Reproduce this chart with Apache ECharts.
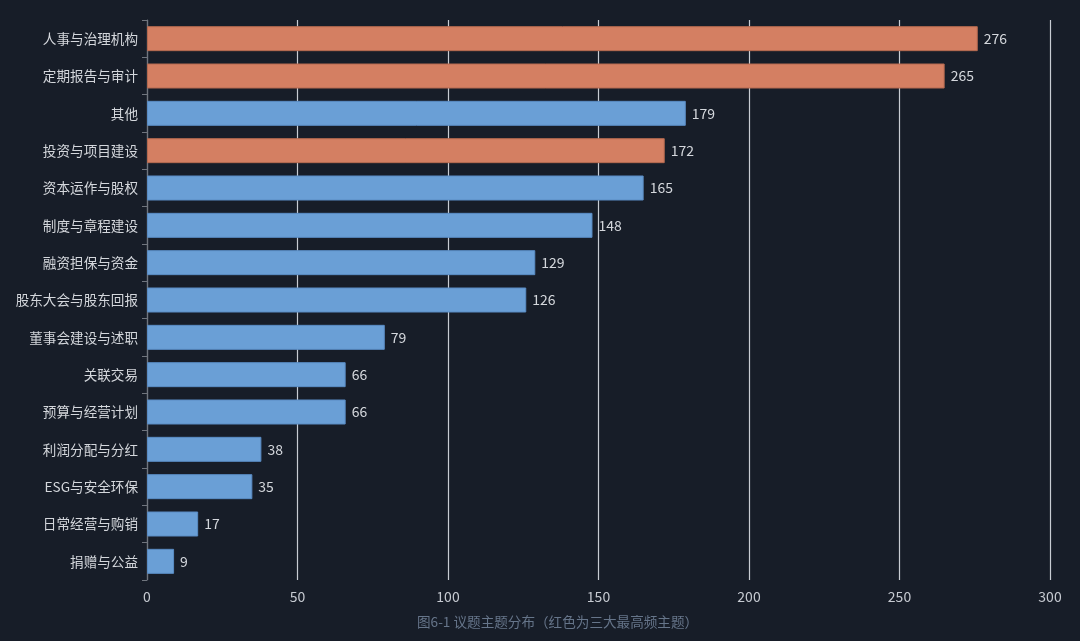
<!DOCTYPE html>
<html style="height: 100%">
    <head>
        <meta charset="utf-8">
        <script src="https://cdn.jsdelivr.net/npm/echarts@6/dist/echarts.min.js"></script>
    </head>
    <body style="height: 100%; margin: 0; background-color: #171d28">
        <div id="container" style="width: 1080px; height: 641px"></div>
        <script type="text/javascript">
        // 议题主题（从上到下）
        var topics = ['人事与治理机构', '定期报告与审计', '其他', '投资与项目建设', '资本运作与股权',
            '制度与章程建设', '融资担保与资金', '股东大会与股东回报', '董事会建设与述职', '关联交易',
            '预算与经营计划', '利润分配与分红', 'ESG与安全环保', '日常经营与购销', '捐赠与公益'];
        var counts = [276, 265, 179, 172, 165, 148, 129, 126, 79, 66, 66, 38, 35, 17, 9];
        // 三大最高频主题
        var topThree = ['人事与治理机构', '定期报告与审计', '投资与项目建设'];
        var xTicks = [0, 50, 100, 150, 200, 250, 300];

        var chart = echarts.init(document.getElementById('container'));

        var barData = topics.map(function (name, i) {
            var hot = topThree.indexOf(name) >= 0;
            return {
                value: counts[i],
                itemStyle: {
                    color: hot ? '#d47f62' : '#6a9fd6',
                    borderColor: hot ? '#b56a50' : '#5a8cc4',
                    borderWidth: 1
                }
            };
        });

        var option = {
            backgroundColor: '#171d28',
            textStyle: { fontFamily: '"Noto Sans CJK SC", "Noto Sans", sans-serif' },
            title: {
                text: '图6-1 议题主题分布（红色为三大最高频主题）',
                left: 412,
                top: 610,
                textStyle: { color: '#66758a', fontSize: 13.6, fontWeight: 'normal' }
            },
            grid: { left: 147, right: 30, top: 20, bottom: 61 },
            xAxis: {
                type: 'value',
                min: xTicks[0],
                max: xTicks[xTicks.length - 1],
                interval: 50,
                axisLine: { show: false },
                axisTick: { show: false },
                axisLabel: { color: '#c6cad1', fontSize: 14, margin: 10 },
                splitLine: { lineStyle: { color: '#c8ccd3', width: 1.2 } }
            },
            yAxis: {
                type: 'category',
                inverse: true,
                data: topics,
                axisLine: { show: true, lineStyle: { color: '#70757e' } },
                axisTick: { show: true, length: 5, lineStyle: { color: '#70757e' } },
                axisLabel: { color: '#d4d7dc', fontSize: 13.6, margin: 9 }
            },
            series: [{
                type: 'bar',
                data: barData,
                barWidth: 25,
                label: {
                    show: true,
                    position: 'right',
                    distance: 6,
                    color: '#d4d7dc',
                    fontSize: 14
                }
            }]
        };
        chart.setOption(option);
        </script>
    </body>
</html>
